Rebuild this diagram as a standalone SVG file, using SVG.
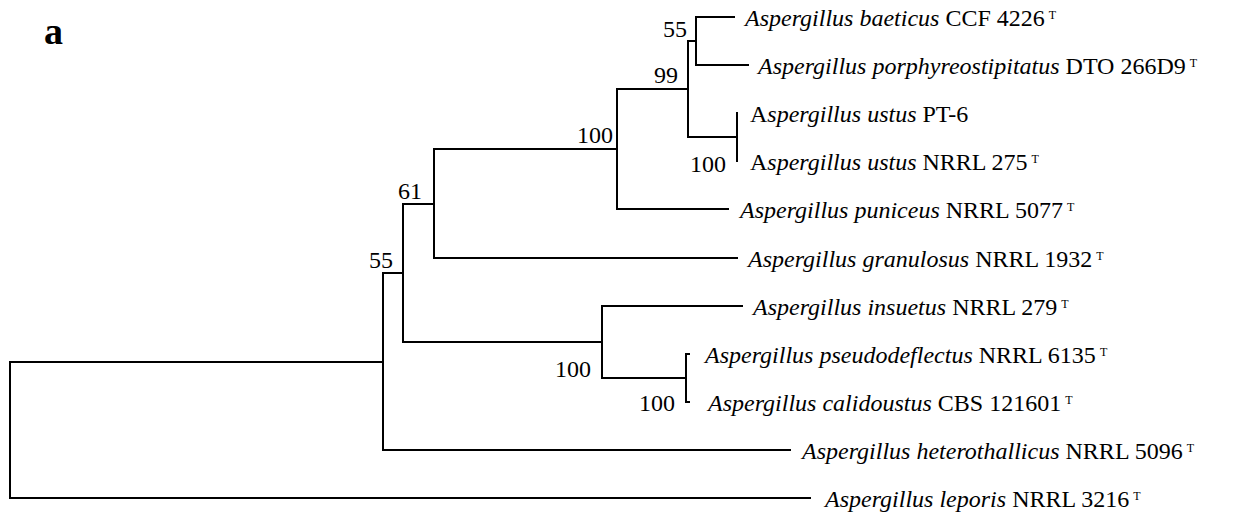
<svg xmlns="http://www.w3.org/2000/svg" width="1236" height="515" viewBox="0 0 1236 515">
<style>
.br{fill:none;stroke:#000;stroke-width:2;stroke-linecap:square}
.lf{font-family:"Liberation Serif","Times New Roman",serif;font-size:24px;fill:#000}
.sp{font-family:"Liberation Serif","Times New Roman",serif;font-size:24px;fill:#000;text-anchor:end}
.i{font-style:italic}
.t{font-size:12px}
.panel{font-family:"Liberation Serif","Times New Roman",serif;font-size:38px;font-weight:bold;fill:#000}
</style>
<rect width="1236" height="515" fill="#fff"/>
<text class="panel" x="44" y="44">a</text>
<g id="connectors">
<path class="br" d="M10,362V498M10,362H383M10,498H810"/>
<path class="br" d="M383,273V450M383,273H403M383,450H790"/>
<path class="br" d="M403,204V342M403,204H434M403,342H602"/>
<path class="br" d="M434,149V258M434,149H617M434,258H737"/>
<path class="br" d="M617,89V209M617,89H688M617,209H728"/>
<path class="br" d="M688,41V137M688,41H696M688,137H737"/>
<path class="br" d="M696,17V65M696,17H734M696,65H748"/>
<path class="br" d="M737,113V161"/>
<path class="br" d="M602,306V378M602,306H742M602,378H686"/>
<path class="br" d="M686,354V402M686,354H689M686,402H689"/>
</g>
<g id="node-root55"><text class="sp" x="393" y="268">55</text></g>
<g id="node-61"><text class="sp" x="422" y="199">61</text></g>
<g id="node-100a"><text class="sp" x="613" y="143">100</text></g>
<g id="node-99"><text class="sp" x="678" y="83">99</text></g>
<g id="node-55b"><text class="sp" x="687" y="37">55</text></g>
<g id="node-100b"><text class="sp" x="726" y="172">100</text></g>
<g id="node-100c"><text class="sp" x="591" y="377">100</text></g>
<g id="node-100d"><text class="sp" x="675" y="411">100</text></g>
<g id="leaf-baeticus"><text class="lf" x="745" y="26"><tspan class="i">Aspergillus baeticus</tspan> CCF 4226<tspan class="t" dx="4" dy="-7">T</tspan></text></g>
<g id="leaf-porphyreostipitatus"><text class="lf" x="758" y="74"><tspan class="i">Aspergillus porphyreostipitatus</tspan> DTO 266D9<tspan class="t" dx="4" dy="-7">T</tspan></text></g>
<g id="leaf-ustus-pt6"><text class="lf" x="750" y="122">A<tspan class="i">spergillus ustus</tspan> PT-6</text></g>
<g id="leaf-ustus-nrrl"><text class="lf" x="750" y="170">A<tspan class="i">spergillus ustus</tspan> NRRL 275<tspan class="t" dx="4" dy="-7">T</tspan></text></g>
<g id="leaf-puniceus"><text class="lf" x="740" y="218"><tspan class="i">Aspergillus puniceus</tspan> NRRL 5077<tspan class="t" dx="4" dy="-7">T</tspan></text></g>
<g id="leaf-granulosus"><text class="lf" x="748" y="267"><tspan class="i">Aspergillus granulosus</tspan> NRRL 1932<tspan class="t" dx="4" dy="-7">T</tspan></text></g>
<g id="leaf-insuetus"><text class="lf" x="753" y="315"><tspan class="i">Aspergillus insuetus</tspan> NRRL 279<tspan class="t" dx="4" dy="-7">T</tspan></text></g>
<g id="leaf-pseudodeflectus"><text class="lf" x="705" y="363"><tspan class="i">Aspergillus pseudodeflectus</tspan> NRRL 6135<tspan class="t" dx="4" dy="-7">T</tspan></text></g>
<g id="leaf-calidoustus"><text class="lf" x="708" y="411"><tspan class="i">Aspergillus calidoustus</tspan> CBS 121601<tspan class="t" dx="4" dy="-7">T</tspan></text></g>
<g id="leaf-heterothallicus"><text class="lf" x="802" y="459"><tspan class="i">Aspergillus heterothallicus</tspan> NRRL 5096<tspan class="t" dx="4" dy="-7">T</tspan></text></g>
<g id="leaf-leporis"><text class="lf" x="825" y="507"><tspan class="i">Aspergillus leporis</tspan> NRRL 3216<tspan class="t" dx="4" dy="-7">T</tspan></text></g>
</svg>
